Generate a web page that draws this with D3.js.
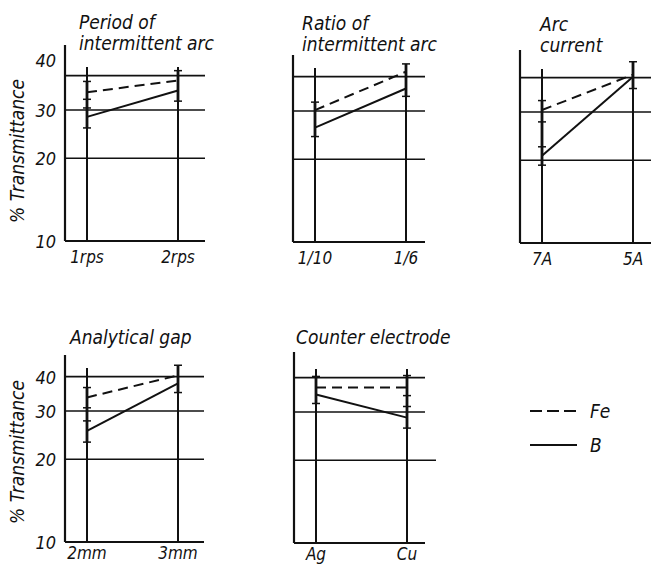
<!DOCTYPE html>
<html>
<head>
<meta charset="utf-8">
<script src="https://cdn.jsdelivr.net/npm/d3@7"></script>
<style>
  body { margin: 0; background: #fff; }
  text { font-family: "DejaVu Sans Condensed", "DejaVu Sans", sans-serif; font-style: italic; fill: #111; }
</style>
</head>
<body>
<div id="chart"></div>
<script>
// chart data
const titles = [["Period of", "intermittent arc"], ["Ratio of", "intermittent arc"], ["Arc", "current"], ["Analytical gap"], ["Counter electrode"]];
const categories = [["1rps", "2rps"], ["1/10", "1/6"], ["7A", "5A"], ["2mm", "3mm"], ["Ag", "Cu"]];
const feValues = [[34.8, 38.4], [30.2, 41.7], [30.5, 41.0], [33.6, 40.4], [36.8, 36.8]];
const bValues = [[28.3, 35.3], [26.1, 36.2], [20.8, 40.3], [25.4, 37.8], [34.7, 28.6]];
// ends of the error bars drawn on each category line
const errorTicks = [
  [[38.1, 32.8, 30.5, 25.8], [41.7, 32.3]],
  [[32.3, 24.2], [44.5, 33.9]],
  [[33.0, 27.6, 22.4, 19.2], [45.7, 36.5]],
  [[36.5, 30.8, 27.6, 23.1], [44.0, 35.0]],
  [[40.4, 32.2], [40.7, 34.4, 31.4, 26.2]]
];
const gridValues = [20, 30, 40];
const yTicks = [10, 20, 30, 40];
const legendLabels = ["Fe", "B"];

const width = 651, height = 565;
// where each panel sits
const panels = [
  {ax: 65, bottom: 241, top: 45, gridEnd: 205, labels: true, tx: 79, ty: 29},
  {ax: 293, bottom: 242, top: 55, gridEnd: 425, labels: false, tx: 302, ty: 30},
  {ax: 520, bottom: 243, top: 50, gridEnd: 655, labels: false, tx: 540, ty: 31},
  {ax: 65, bottom: 542, top: 355, gridEnd: 204, labels: true, tx: 70, ty: 344},
  {ax: 294, bottom: 543, top: 352, gridEnd: 425, labels: false, tx: 296, ty: 344}
];

const svg = d3.select("#chart").append("svg")
  .attr("width", width)
  .attr("height", height);

panels.forEach((p, i) => {
  const g = svg.append("g");

  const y = d3.scaleLog()
    .domain([10, 50])
    .range([p.bottom, p.bottom - 192]);

  const x = d3.scalePoint()
    .domain(categories[i])
    .range([p.ax + 22, p.ax + 113]);

  // horizontal grid lines
  g.selectAll(".grid")
    .data(gridValues)
    .enter().append("line")
      .attr("x1", p.ax)
      .attr("x2", d => (i == 4 && d == 20) ? p.gridEnd + 11 : p.gridEnd)
      .attr("y1", d => y(d))
      .attr("y2", d => y(d))
      .style("stroke", "#111")
      .style("stroke-width", 1.6);

  // axes
  g.append("line")
    .attr("x1", p.ax).attr("x2", p.ax)
    .attr("y1", p.top).attr("y2", p.bottom)
    .style("stroke", "#111").style("stroke-width", 2.2);
  g.append("line")
    .attr("x1", p.ax).attr("x2", Math.min(p.gridEnd, width))
    .attr("y1", p.bottom).attr("y2", p.bottom)
    .style("stroke", "#111").style("stroke-width", 2.2);

  // category lines
  g.selectAll(".cat")
    .data(categories[i])
    .enter().append("line")
      .attr("x1", d => x(d)).attr("x2", d => x(d))
      .attr("y1", p.bottom)
      .attr("y2", (d, j) => y(Math.max(43, d3.max(errorTicks[i][j]))))
      .style("stroke", "#111")
      .style("stroke-width", 2);

  // error bars
  categories[i].forEach((c, j) => {
    const ticks = errorTicks[i][j];
    g.append("line")
      .attr("x1", x(c)).attr("x2", x(c))
      .attr("y1", y(d3.max(ticks))).attr("y2", y(d3.min(ticks)))
      .style("stroke", "#111").style("stroke-width", 2.8);
    g.selectAll(null)
      .data(ticks)
      .enter().append("line")
        .attr("x1", x(c) - 4).attr("x2", x(c) + 4)
        .attr("y1", d => y(d)).attr("y2", d => y(d))
        .style("stroke", "#111").style("stroke-width", 1.5);
  });

  const line = d3.line()
    .x((d, j) => x(categories[i][j]))
    .y(d => y(d));

  g.append("path")
    .attr("d", line(feValues[i]))
    .style("fill", "none").style("stroke", "#111")
    .style("stroke-width", 2).style("stroke-dasharray", "10,6");
  g.append("path")
    .attr("d", line(bValues[i]))
    .style("fill", "none").style("stroke", "#111")
    .style("stroke-width", 2);

  // category labels
  g.selectAll(".xlab")
    .data(categories[i])
    .enter().append("text")
      .attr("x", d => x(d))
      .attr("y", p.bottom + (i >= 3 ? 17 : 22))
      .attr("text-anchor", "middle")
      .style("font-size", "17px")
      .text(d => d);

  // panel title
  g.selectAll(".title")
    .data(titles[i])
    .enter().append("text")
      .attr("x", p.tx)
      .attr("y", (d, k) => p.ty + k * 21)
      .style("font-size", "19px")
      .text(d => d);

  if (p.labels) {
    g.selectAll(".ylab")
      .data(yTicks)
      .enter().append("text")
        .attr("x", p.ax - 9)
        .attr("y", d => y(d) + 7 - (i == 0 && d == 40 ? 16 : 0))
        .attr("text-anchor", "end")
        .style("font-size", "18px")
        .text(d => d);

    g.append("text")
      .attr("transform", "translate(24," + (p.bottom - 90) + ") rotate(-90)")
      .attr("text-anchor", "middle")
      .style("font-size", "19px")
      .text("% Transmittance");
  }
});

// legend
const legend = svg.append("g");
legendLabels.forEach((name, k) => {
  const ly = 411 + k * 34;
  legend.append("line")
    .attr("x1", 530).attr("x2", 577)
    .attr("y1", ly).attr("y2", ly)
    .style("stroke", "#111").style("stroke-width", 2)
    .style("stroke-dasharray", k == 0 ? "12,5" : null);
  legend.append("text")
    .attr("x", 590).attr("y", ly + 7)
    .style("font-size", "19px")
    .text(name);
});
</script>
</body>
</html>
